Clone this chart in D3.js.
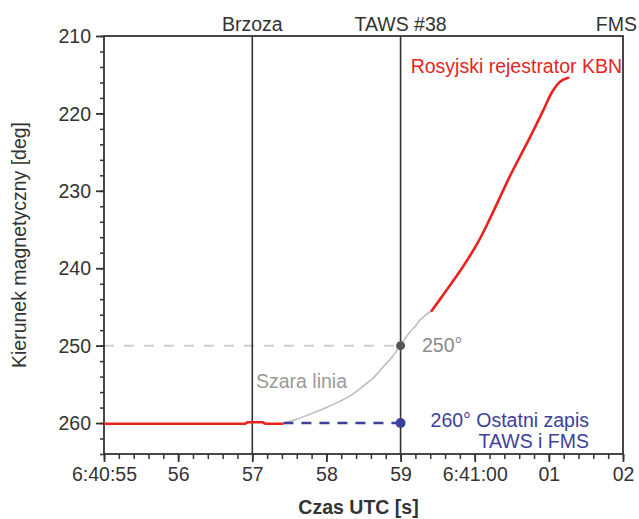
<!DOCTYPE html>
<html lang="pl">
<head>
<meta charset="UTF-8">
<title>Kierunek magnetyczny</title>
<script src="https://d3js.org/d3.v7.min.js"></script>
<style>
  body { margin: 0; background: #fff; font-family: "Liberation Sans", Arial, sans-serif; }
  .tick text { font-size: 19.5px; fill: #333; }
  .axis path, .axis line { stroke: #333; }
</style>
</head>
<body>
<div id="chart"></div>
<script>
// time in seconds after 6:40:00 UTC
const xTickValues = [55, 56, 57, 58, 59, 60, 61, 62];
const xTickLabels = ["6:40:55", "56", "57", "58", "59", "6:41:00", "01", "02"];
const yTickValues = [210, 220, 230, 240, 250, 260];

const markerTimes = [57, 59, 62];
const markerLabels = ["Brzoza", "TAWS #38", "FMS"];

// red recorder trace before the gap
const redFlatT = [55, 56.9, 56.94, 57.14, 57.18, 57.42];
const redFlatV = [260.1, 260.1, 259.9, 259.9, 260.1, 260.1];

// gray line (interpolated)
const grayT = [57.42, 57.6, 57.82, 58.0, 58.18, 58.35, 58.5, 58.65, 58.77, 58.9, 59.0, 59.13, 59.2, 59.26, 59.3, 59.35, 59.42];
const grayV = [260, 259.5, 258.7, 258.0, 257.2, 256.3, 255.2, 254.0, 252.7, 251.3, 249.9, 248.2, 247.5, 246.7, 246.4, 245.95, 245.5];

// red recorder trace after the gap
const redT = [59.42, 59.6, 59.8, 60.03, 60.21, 60.48, 60.75, 60.93, 61.04, 61.15, 61.26];
const redV = [245.5, 243.1, 240.4, 236.9, 233.5, 228.0, 223.0, 219.5, 217.3, 215.9, 215.4];

// last TAWS / FMS record
const lastT = [57.42, 59];
const lastV = [260, 260];
const refT = [55, 59];
const refV = [250, 250];

const width = 639, height = 519;
const margin = { left: 104, right: 16, top: 36, bottom: 65 };
const fs = "19.5px";

const svg = d3.select("#chart").append("svg")
  .attr("width", width)
  .attr("height", height);

const x = d3.scaleLinear().domain([55, 62]).range([margin.left, width - margin.right]);
const y = d3.scaleLinear().domain([210, 264]).range([margin.top, height - margin.bottom]);

const zip = (ts, vs) => ts.map((t, i) => [t, vs[i]]);
const line = d3.line().x(d => x(d[0])).y(d => y(d[1]));
const smooth = d3.line().x(d => x(d[0])).y(d => y(d[1])).curve(d3.curveCatmullRom);

// minor ticks
const xMinor = d3.range(55, 62.001, 0.2);
const yMinor = d3.range(210, 264.001, 2);

svg.append("g")
  .attr("class", "axis")
  .attr("transform", `translate(0,${y(264)})`)
  .call(d3.axisBottom(x).tickValues(xMinor).tickSize(5).tickFormat(""))
  .call(g => g.select(".domain").remove())
  .selectAll("line").attr("stroke-width", 1.5);

svg.append("g")
  .attr("class", "axis")
  .attr("transform", `translate(${x(55)},0)`)
  .call(d3.axisLeft(y).tickValues(yMinor).tickSize(4).tickFormat(""))
  .call(g => g.select(".domain").remove())
  .selectAll("line").attr("stroke-width", 1.5);

const xAxis = svg.append("g")
  .attr("class", "axis")
  .attr("transform", `translate(0,${y(264)})`)
  .call(d3.axisBottom(x).tickValues(xTickValues).tickSize(8).tickPadding(5)
    .tickFormat((d, i) => xTickLabels[i]));
xAxis.select(".domain").remove();
xAxis.selectAll("line").attr("stroke-width", 1.8);

const yAxis = svg.append("g")
  .attr("class", "axis")
  .attr("transform", `translate(${x(55)},0)`)
  .call(d3.axisLeft(y).tickValues(yTickValues).tickSize(8).tickPadding(5));
yAxis.select(".domain").remove();
yAxis.selectAll("line").attr("stroke-width", 1.8);
yAxis.selectAll("text").attr("dy", "0.34em");

// reference dashed line at 250
svg.append("path")
  .datum(zip(refT, refV))
  .attr("d", line)
  .attr("fill", "none")
  .attr("stroke", "#cfcfcf")
  .attr("stroke-width", 2)
  .attr("stroke-dasharray", "10,10");

// vertical event lines
svg.append("g")
  .selectAll("line")
  .data(markerTimes.slice(0, 2))
  .join("line")
  .attr("x1", d => x(d)).attr("x2", d => x(d))
  .attr("y1", y(210)).attr("y2", y(264))
  .attr("stroke", "#333")
  .attr("stroke-width", 1.6);

svg.append("g")
  .selectAll("text")
  .data(markerTimes)
  .join("text")
  .attr("x", (d, i) => i === 2 ? width - 2 : x(d))
  .attr("y", 31)
  .attr("text-anchor", (d, i) => i === 2 ? "end" : "middle")
  .attr("font-size", fs)
  .attr("fill", "#333")
  .text((d, i) => markerLabels[i]);

// frame
svg.append("rect")
  .attr("x", x(55)).attr("y", y(210))
  .attr("width", x(62) - x(55)).attr("height", y(264) - y(210))
  .attr("fill", "none")
  .attr("stroke", "#333")
  .attr("stroke-width", 1.8);

// gray line
svg.append("path")
  .datum(zip(grayT, grayV))
  .attr("d", smooth)
  .attr("fill", "none")
  .attr("stroke", "#bdbdbd")
  .attr("stroke-width", 1.6);

// blue dashed
svg.append("path")
  .datum(zip(lastT, lastV))
  .attr("d", line)
  .attr("fill", "none")
  .attr("stroke", "#3d3f9c")
  .attr("stroke-width", 2.5)
  .attr("stroke-dasharray", "10,8");

// red traces
svg.append("path")
  .datum(zip(redFlatT, redFlatV))
  .attr("d", line)
  .attr("fill", "none")
  .attr("stroke", "#e8231e")
  .attr("stroke-width", 2.6)
  .attr("stroke-linejoin", "round");

svg.append("path")
  .datum(zip(redT, redV))
  .attr("d", smooth)
  .attr("fill", "none")
  .attr("stroke", "#e8231e")
  .attr("stroke-width", 2.6)
  .attr("stroke-linecap", "round");

// points
svg.append("circle").attr("cx", x(59)).attr("cy", y(250)).attr("r", 4.5).attr("fill", "#555");
svg.append("circle").attr("cx", x(59)).attr("cy", y(260)).attr("r", 5).attr("fill", "#3d3f9c");

// annotations
svg.append("text")
  .attr("x", x(62) - 1).attr("y", 73)
  .attr("text-anchor", "end")
  .attr("font-size", fs)
  .attr("fill", "#e8231e")
  .text("Rosyjski rejestrator KBN");

svg.append("text")
  .attr("x", 422).attr("y", 352)
  .attr("font-size", fs)
  .attr("fill", "#8a8a8a")
  .text("250°");

svg.append("text")
  .attr("x", 256).attr("y", 388)
  .attr("font-size", fs)
  .attr("fill", "#9a9a9a")
  .text("Szara linia");

svg.append("text")
  .attr("x", 589).attr("y", 427)
  .attr("text-anchor", "end")
  .attr("font-size", fs)
  .attr("fill", "#3d3f9c")
  .text("260° Ostatni zapis");

svg.append("text")
  .attr("x", 589).attr("y", 448)
  .attr("text-anchor", "end")
  .attr("font-size", fs)
  .attr("fill", "#3d3f9c")
  .text("TAWS i FMS");

// axis titles
svg.append("text")
  .attr("x", (x(55) + x(62)) / 2 - 5).attr("y", 514)
  .attr("text-anchor", "middle")
  .attr("font-size", fs)
  .attr("font-weight", "bold")
  .attr("fill", "#333")
  .text("Czas UTC [s]");

svg.append("text")
  .attr("transform", `translate(26,${(y(210) + y(264)) / 2}) rotate(-90)`)
  .attr("text-anchor", "middle")
  .attr("font-size", fs)
  .attr("fill", "#333")
  .text("Kierunek magnetyczny [deg]");
</script>
</body>
</html>
